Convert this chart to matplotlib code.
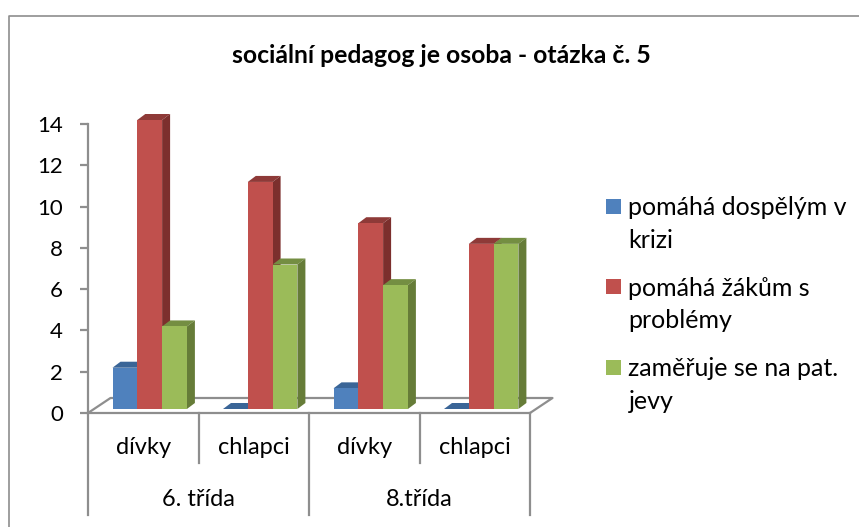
import matplotlib
matplotlib.use("Agg")
import matplotlib.pyplot as plt
import numpy as np
from matplotlib.patches import Polygon, Rectangle, Patch
from matplotlib.lines import Line2D
from matplotlib.legend_handler import HandlerBase

plt.rcParams['font.family'] = ['Lato', 'DejaVu Sans']

title = "sociální pedagog je osoba - otázka č. 5"
categories = ["dívky", "chlapci", "dívky", "chlapci"]
groups = ["6. třída", "8.třída"]
series_names = ["pomáhá dospělým v\nkrizi", "pomáhá žákům s\nproblémy", "zaměřuje se na pat.\njevy"]
pomaha_dospelym = [2, 0, 1, 0]
pomaha_zakum = [14, 11, 9, 8]
zameruje_se = [4, 7, 6, 8]
front_colors = ["#4F81BD", "#C0504D", "#9BBB59"]
side_colors = ["#2F5585", "#7C2F2D", "#667C38"]
top_colors = ["#3A6597", "#8E3A38", "#748E42"]
grey = "#8E8E8E"

W, H = 859, 527
fig = plt.figure(figsize=(W / 100, H / 100), dpi=100)
L, R, T, B = 88, 530, 124, 413
ax = fig.add_axes([L / W, 1 - B / H, (R - L) / W, (B - T) / H])
ax.set_xlim(0, 4)
ax.set_ylim(0, 14)
ax.patch.set_alpha(0)

# chart frame: only its top and left edges fall inside the picture
fig.add_artist(Line2D([1, 8.5 / W, 8.5 / W], [1 - 15.5 / H, 1 - 15.5 / H, 0], transform=fig.transFigure,
                      color=grey, lw=1.2))

px = 4 / (R - L)      # data units per pixel, x
py = 14 / (B - T)     # data units per pixel, y

# floor
fdx, fdy = 22.5 * px, 15 * py
ax.plot([0, fdx, 4 + fdx, 4], [0, fdy, fdy, 0], color=grey, lw=1.6, clip_on=False, zorder=1)

# bars
width = 24.8 * px
start = 24.5 * px
base = 4 * py
ddx, ddy = 8 * px, 6 * py
series = [pomaha_dospelym, pomaha_zakum, zameruje_se]
for s, vals in enumerate(series):
    xs = np.arange(4) + start + s * width
    z = 3 + s * 0.1
    ax.bar(xs, vals, width=width, bottom=base, align="edge", color=front_colors[s], lw=0,
           clip_on=False, zorder=z + 0.05)
    for x0, v in zip(xs, vals):
        top = base + v
        ax.add_patch(Polygon([(x0, top), (x0 + ddx, top + ddy), (x0 + width + ddx, top + ddy), (x0 + width, top)],
                             closed=True, fc=top_colors[s], lw=0, clip_on=False, zorder=z))
        ax.add_patch(Polygon([(x0 + width, base), (x0 + width + ddx, base + ddy), (x0 + width + ddx, top + ddy), (x0 + width, top)],
                             closed=True, fc=side_colors[s], lw=0, clip_on=False, zorder=z))

# axes
for side in ("top", "right"):
    ax.spines[side].set_visible(False)
for side in ("left", "bottom"):
    ax.spines[side].set_color(grey)
    ax.spines[side].set_linewidth(1.6)
    ax.spines[side].set_zorder(5)
ax.set_yticks(np.arange(0, 15, 2))
ax.tick_params(axis="y", length=6, width=1.6, color=grey, labelsize=16, pad=12)
ax.set_xticks(np.arange(4) + 0.5, categories)
ax.tick_params(axis="x", length=0, labelsize=17, pad=17)

# multi-level category dividers and group labels
for x, depth in zip([0, 1, 2, 3, 4], [102, 50, 102, 50, 102]):
    ax.plot([x, x], [0, -depth * py], color=grey, lw=1.6, clip_on=False, zorder=4)
for x, g in zip([1, 3], groups):
    ax.text(x, -(86 * py), g, ha="center", va="center", fontsize=17, color="black")

fig.text(441 / W, 1 - 56 / H, title, ha="center", va="center", fontsize=17.8, fontweight="bold")


class LiftedSquare(HandlerBase):
    def create_artists(self, legend, orig, xd, yd, width, height, fontsize, trans):
        side = 15 * 0.72
        return [Rectangle((0, 14.3), side, side, fc=orig.get_facecolor(), lw=0, transform=trans)]


handles = [Patch(fc=c) for c in front_colors]
leg = fig.legend(handles, series_names, handler_map={Patch: LiftedSquare()}, frameon=False,
                 loc="upper left", bbox_to_anchor=(606 / W, 1 - 196.5 / H), fontsize=18,
                 labelspacing=1.0, handlelength=0.6, handletextpad=0.3, borderpad=0, borderaxespad=0)
for t in leg.get_texts():
    t.set_linespacing(1.5)

fig.savefig("out.png", dpi=100)
